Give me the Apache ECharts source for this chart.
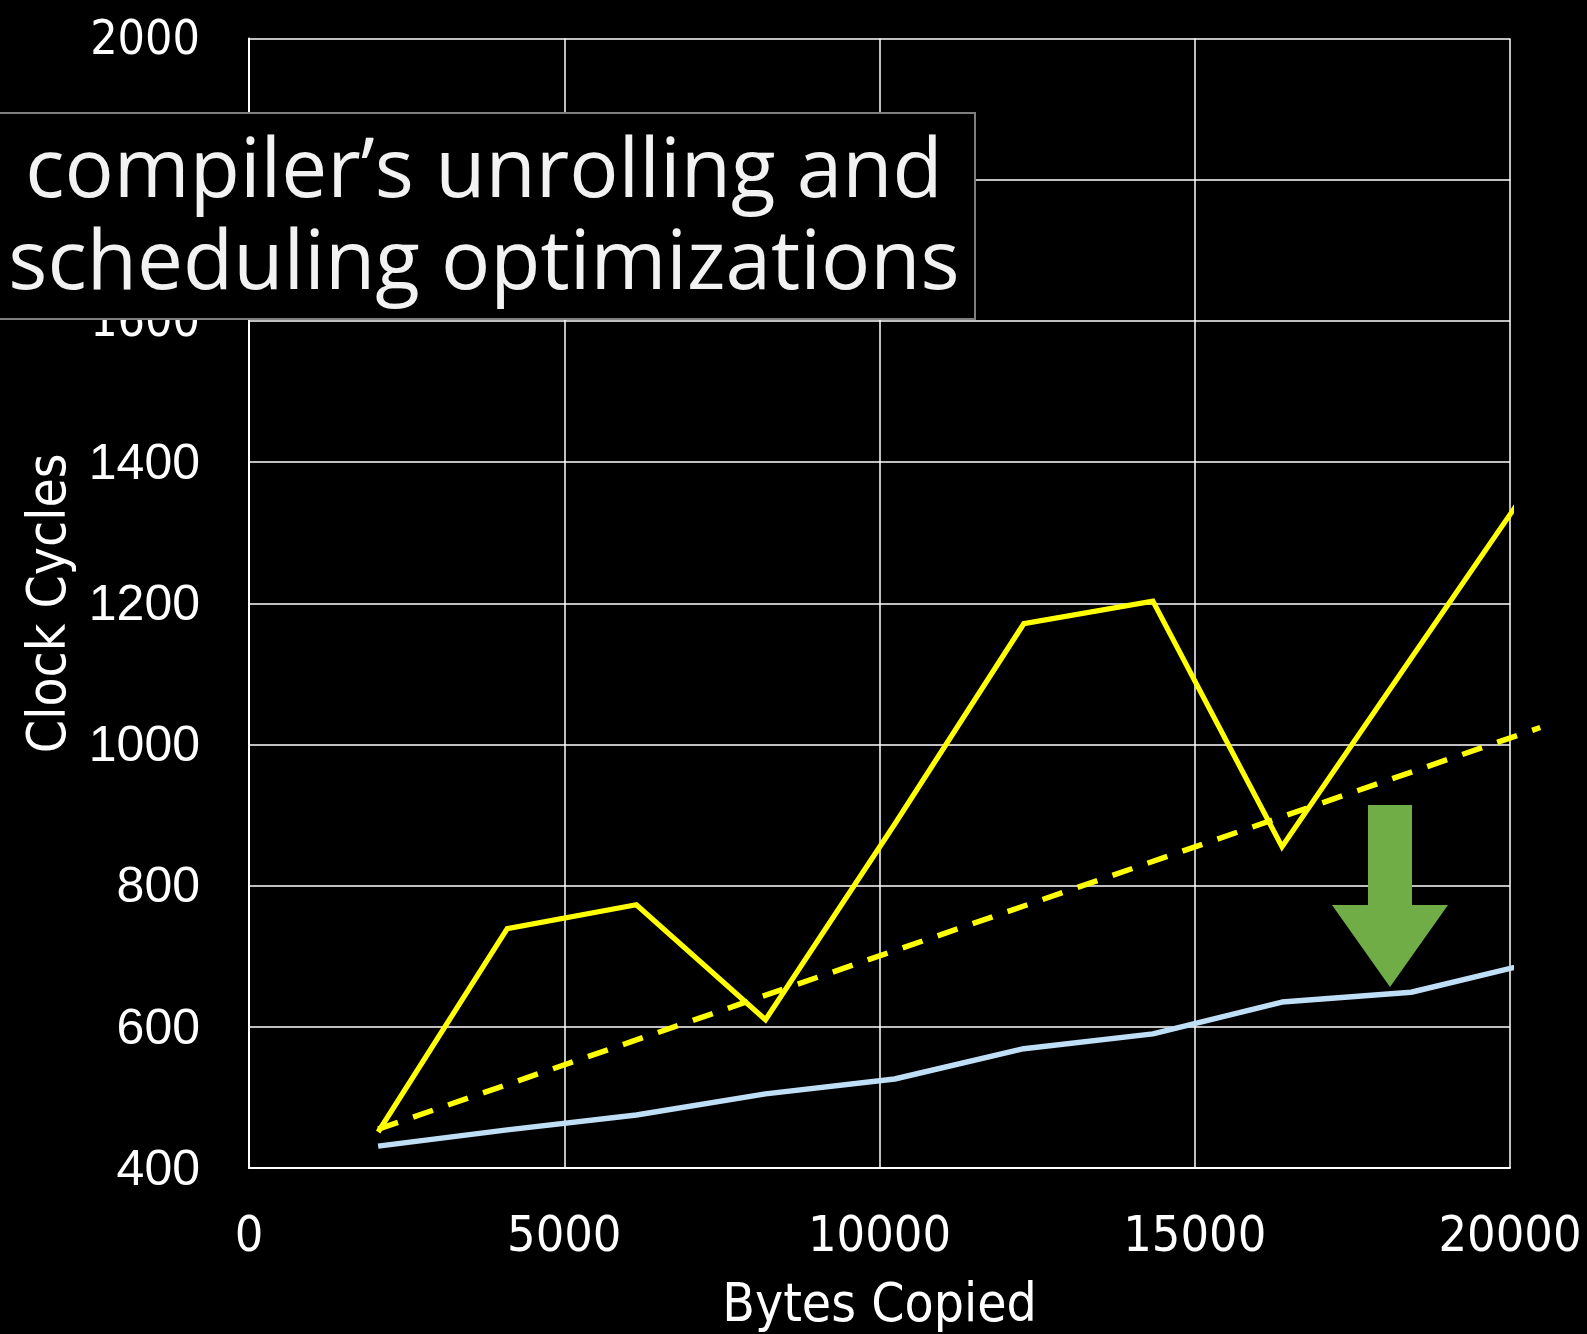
<!DOCTYPE html>
<html><head><meta charset="utf-8">
<script src="https://cdn.jsdelivr.net/npm/echarts@6/dist/echarts.min.js"></script>
<style>html,body{margin:0;padding:0;background:#000;overflow:hidden}#c{width:1587px;height:1334px}</style>
</head><body><div id="c"></div>
<script>
// Data
const bytesCopied = [2048, 4096, 6144, 8192, 10240, 12288, 14336, 16384, 18432, 20480];
const cyclesBefore = [451, 739, 773, 610, 887, 1171, 1203, 855, 1122, 1388];
const cyclesAfter = [431, 454, 475, 505, 526, 569, 590, 635, 649, 693];
const trendBytes = [2048, 20480];
const trendCycles = [455, 1024];
const noteLines = ['compiler\u2019s unrolling and', 'scheduling optimizations'];
const xName = 'Bytes Copied';
const yName = 'Clock Cycles';

const zip = (a, b) => a.map((v, i) => [v, b[i]]);
const narrow = '"DejaVu Sans Condensed", "Liberation Sans Narrow", sans-serif';
const wide = '"Liberation Sans", Arial, sans-serif';

// main plot: 0..20000 over 1261px; overflow layer with identical scale extended to 20500
const X_MAX = 20000, X_OVER = 20500;
const plotLeft = 249, plotRight = 77, plotW = 1587 - plotLeft - plotRight;
const overRight = 1587 - plotLeft - plotW * X_OVER / X_MAX;

const chart = echarts.init(document.getElementById('c'), null, { renderer: 'canvas' });
chart.setOption({
  backgroundColor: '#000000',
  animation: false,
  grid: [
    { left: plotLeft, right: plotRight, top: 38.5, bottom: 166, containLabel: false, outerBoundsMode: 'none' },
    { left: plotLeft, right: overRight, top: 38.5, bottom: 166, containLabel: false, outerBoundsMode: 'none' }
  ],
  xAxis: [{
    type: 'value', min: 0, max: X_MAX, interval: 5000, gridIndex: 0,
    name: xName, nameLocation: 'middle', nameGap: 113,
    nameTextStyle: { color: '#ffffff', fontSize: 53, fontFamily: narrow },
    axisLine: { show: true, lineStyle: { color: '#ffffff', width: 2 } },
    axisTick: { show: false },
    splitLine: { show: true, lineStyle: { color: '#ffffff', width: 1.5 } },
    axisLabel: { color: '#ffffff', fontSize: 50, fontFamily: narrow, margin: 45, formatter: v => String(v) }
  }, {
    type: 'value', min: 0, max: X_OVER, gridIndex: 1, show: false
  }],
  yAxis: [{
    type: 'value', min: 400, max: 2000, interval: 200, gridIndex: 0,
    name: yName, nameLocation: 'middle', nameGap: 153, nameRotate: 90,
    nameTextStyle: { color: '#ffffff', fontSize: 53, fontFamily: narrow },
    axisLine: { show: true, lineStyle: { color: '#ffffff', width: 2 } },
    axisTick: { show: false },
    splitLine: { show: true, lineStyle: { color: '#ffffff', width: 1.5 } },
    axisLabel: {
      color: '#ffffff', margin: 49,
      formatter: v => v >= 1600 ? '{n|' + v + '}' : '{w|' + v + '}',
      rich: {
        n: { color: '#ffffff', fontSize: 48, fontFamily: narrow, padding: [6, 0, 0, 0] },
        w: { color: '#ffffff', fontSize: 50, fontFamily: wide, padding: [6, 0, 0, 0] }
      }
    }
  }, {
    type: 'value', min: 400, max: 2000, gridIndex: 1, show: false
  }],
  series: [
    {
      type: 'line', data: zip(trendBytes, trendCycles), symbol: 'none', xAxisIndex: 1, yAxisIndex: 1, z: 3,
      lineStyle: { color: '#ffff00', width: 5.5, type: [21, 16] }
    },
    {
      type: 'line', data: zip(bytesCopied, cyclesBefore), symbol: 'none', clip: true, z: 4,
      lineStyle: { color: '#ffff00', width: 5.2, join: 'miter' }
    },
    {
      type: 'line', data: zip(bytesCopied, cyclesAfter), symbol: 'none', clip: true, z: 4,
      lineStyle: { color: '#bfdff7', width: 5.5 }
    }
  ],
  graphic: [
    {
      type: 'polygon', z: 50,
      shape: { points: [[1368, 805], [1412, 805], [1412, 905], [1448, 905], [1390, 987], [1332, 905], [1368, 905]] },
      style: { fill: '#70ad47' }
    },
    {
      type: 'rect', z: 100,
      shape: { x: -2, y: 113, width: 977, height: 206 },
      style: { fill: '#000000', stroke: '#7f7f7f', lineWidth: 2 }
    },
    {
      type: 'text', z: 101, x: 484, y: 220,
      style: {
        text: noteLines.join('\n'), fill: '#f2f2f2', fontSize: 82, lineHeight: 92,
        fontFamily: '"Open Sans", "Noto Sans", sans-serif', align: 'center', verticalAlign: 'middle'
      }
    }
  ]
});
</script></body></html>
